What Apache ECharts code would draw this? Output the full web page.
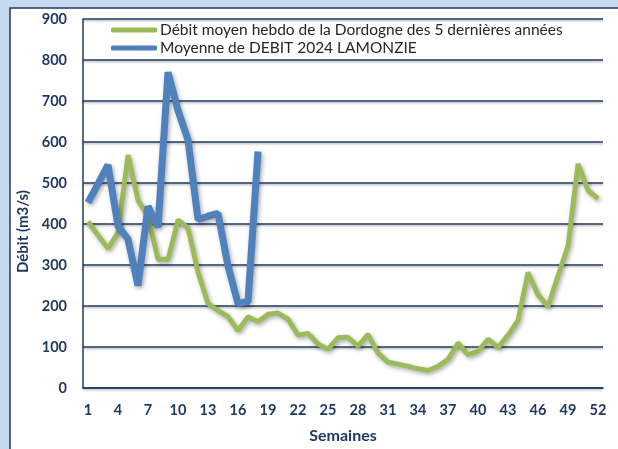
<!DOCTYPE html>
<html>
<head>
<meta charset="utf-8">
<script src="https://cdn.jsdelivr.net/npm/echarts@6/dist/echarts.min.js"></script>
<style>
html,body{margin:0;padding:0;background:#c5d9f1;overflow:hidden;}
#c{width:618px;height:449px;}
</style>
</head>
<body>
<div id="c"></div>
<script>
var weeks = ["1","2","3","4","5","6","7","8","9","10","11","12","13","14","15","16","17","18","19","20","21","22","23","24","25","26","27","28","29","30","31","32","33","34","35","36","37","38","39","40","41","42","43","44","45","46","47","48","49","50","51","52"];
var moyenne5ans = [406,373,340,380,568,458,418,314,314,410,390,283,206,189,174,140,174,162,180,183,168,129,133,107,95,123,124,102,131,85,63,58,53,47,43,53,70,110,81,90,119,99,129,165,282,227,199,274,347,547,482,462];
var debit2024 = [452,498,544,395,363,250,443,392,770,677,605,411,419,426,298,206,211,577];
var seriesNames = ["Débit moyen hebdo de la Dordogne des 5 dernières années","Moyenne de DEBIT 2024 LAMONZIE"];
var yTicks = {min:0, max:900, interval:100};

var navy = '#1f3864';
var chart = echarts.init(document.getElementById('c'), null, {renderer:'canvas', width: 618, height: 449});
chart.setOption({
  backgroundColor: '#c5d9f1',
  animation: false,
  graphic: [{
    type: 'rect', z: -10, silent: true,
    shape: {x: 10, y: 8, width: 620, height: 450},
    style: {fill: '#ffffff', stroke: navy, lineWidth: 1.5}
  }],
  grid: {left: 83, width: 520, top: 19, height: 371, containLabel: false},
  legend: {
    orient: 'vertical', left: 106, top: 17, itemGap: 2,
    itemWidth: 46, itemHeight: 5, icon: 'roundRect',
    textStyle: {fontFamily: 'Lato', fontSize: 15.5, color: '#262626', lineHeight: 16, padding: [0,0,0,-2]},
    data: seriesNames
  },
  xAxis: {
    type: 'category', data: weeks, boundaryGap: true,
    name: 'Semaines', nameLocation: 'middle', nameGap: 40,
    nameTextStyle: {fontFamily: 'Lato', fontWeight: 'bold', fontSize: 16, color: navy},
    axisLine: {lineStyle: {color: navy, width: 1.5}},
    axisTick: {interval: 1, length: 5, lineStyle: {color: navy, width: 1.5}},
    axisLabel: {interval: 2, margin: 15, fontFamily: 'Lato', fontWeight: 'bold', fontSize: 14.5, color: navy},
    splitLine: {show: false}
  },
  yAxis: {
    type: 'value', min: yTicks.min, max: yTicks.max, interval: yTicks.interval,
    name: 'Débit (m3/s)', nameLocation: 'middle', nameGap: 48, nameRotate: 90,
    nameTextStyle: {fontFamily: 'Lato', fontWeight: 'bold', fontSize: 15, color: navy, padding: [0, 56, 0, 0]},
    axisLine: {show: true, lineStyle: {color: navy, width: 1.5}},
    axisTick: {show: false},
    axisLabel: {margin: 16, fontFamily: 'Lato', fontWeight: 'bold', fontSize: 14.5, color: navy},
    splitLine: {lineStyle: {color: navy, width: 1.5, shadowColor: 'rgba(0,0,0,0.3)', shadowBlur: 2, shadowOffsetY: 1.5}}
  },
  series: [{
    name: seriesNames[0], type: 'line', data: moyenne5ans,
    symbol: 'none', z: 2,
    itemStyle: {color: '#9bbb59'},
    lineStyle: {color: '#9bbb59', width: 4.8, shadowColor: 'rgba(0,0,0,0.35)', shadowBlur: 4, shadowOffsetX: 1.5, shadowOffsetY: 2}
  }, {
    name: seriesNames[1], type: 'line', data: debit2024,
    symbol: 'none', z: 3,
    itemStyle: {color: '#4f81bd'},
    lineStyle: {color: '#4f81bd', width: 7, shadowColor: 'rgba(0,0,0,0.35)', shadowBlur: 4, shadowOffsetX: 1.5, shadowOffsetY: 2}
  }]
});
</script>
</body>
</html>
